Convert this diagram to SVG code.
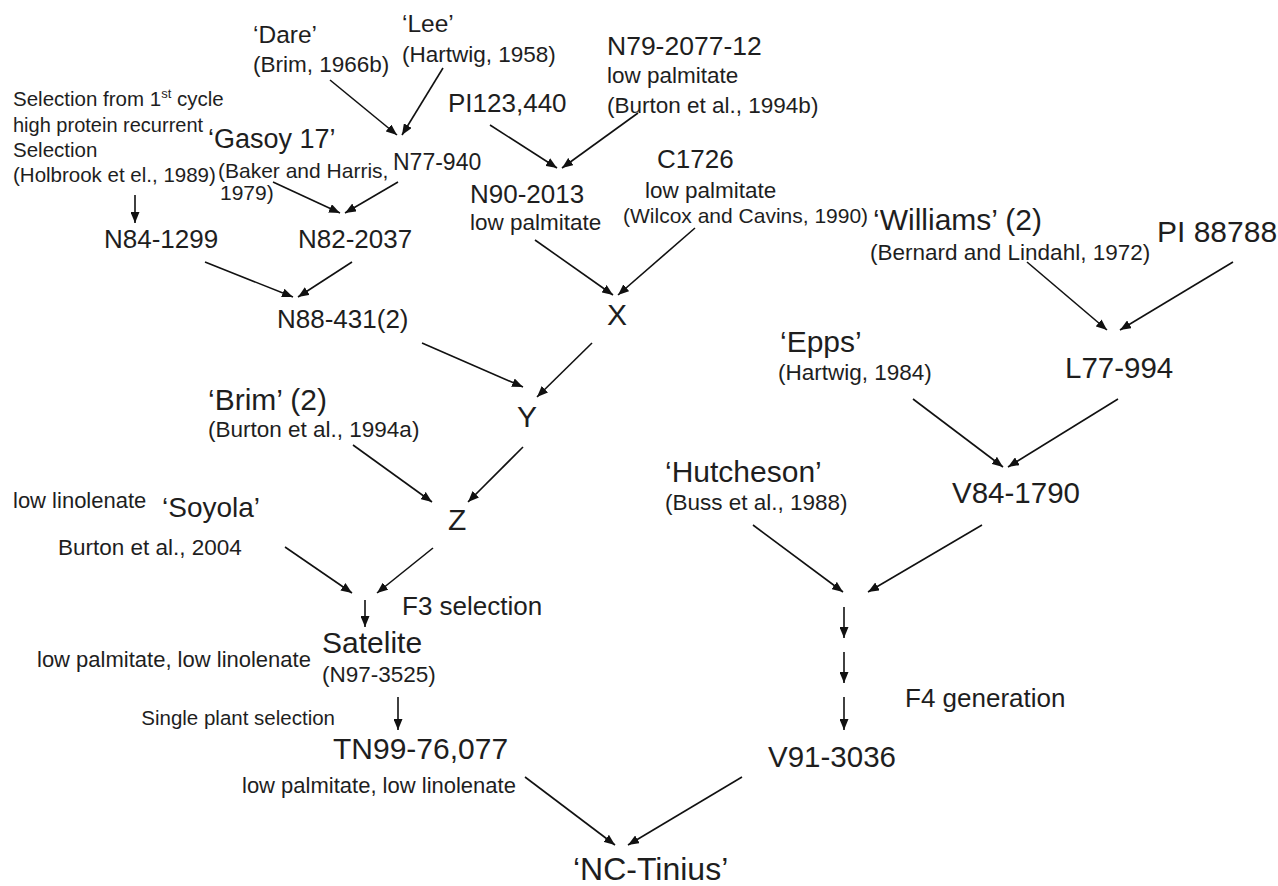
<svg xmlns="http://www.w3.org/2000/svg" width="1278" height="886" viewBox="0 0 1278 886">
<defs>
<marker id="ah" markerUnits="userSpaceOnUse" markerWidth="11" markerHeight="9" refX="11" refY="4.5" orient="auto">
<path d="M0,0 L11,4.5 L0,9 z" fill="#111"/>
</marker>
<style>
text{font-family:"Liberation Sans",Arial,sans-serif;fill:#1e1e1e}
.b{font-size:26px}
.c{font-size:30px}
.s{font-size:22.5px}
.t{font-size:20.5px}
.e line{stroke:#111;stroke-width:1.6;marker-end:url(#ah)}
</style>
</defs>
<rect width="1278" height="886" fill="#fff"/>
<g id="n-dare"><text class="b" x="253" y="43" style="font-size:24.5px">‘Dare’</text><text class="s" x="253" y="72">(Brim, 1966b)</text></g>
<g id="n-lee"><text class="b" x="402" y="32" style="font-size:24.5px">‘Lee’</text><text class="s" x="402" y="62">(Hartwig, 1958)</text></g>
<g id="n-sel"><text class="t" x="13" y="106">Selection from 1<tspan font-size="13" dy="-8">st</tspan><tspan dy="8"> cycle</tspan></text><text class="t" x="13" y="132" style="font-size:20px">high protein recurrent</text><text class="t" x="13" y="157">Selection</text><text class="t" x="13" y="182">(Holbrook et el., 1989)</text></g>
<g id="n-gasoy"><text class="b" x="208" y="148" style="font-size:27px">‘Gasoy 17’</text><text class="s" x="218" y="178" style="font-size:21px">(Baker and Harris,</text><text class="s" x="220" y="200" style="font-size:21px">1979)</text></g>
<g id="n-n77"><text class="b" x="393" y="170" style="font-size:23px">N77-940</text></g>
<g id="n-n79"><text class="b" x="607" y="55" style="font-size:26.5px">N79-2077-12</text><text class="s" x="607" y="83">low palmitate</text><text class="s" x="607" y="113">(Burton et al., 1994b)</text></g>
<g id="n-pi123"><text class="b" x="448" y="112">PI123,440</text></g>
<g id="n-n90"><text class="b" x="470" y="203">N90-2013</text><text class="s" x="470" y="230">low palmitate</text></g>
<g id="n-c1726"><text class="b" x="657" y="168">C1726</text><text class="s" x="645" y="198">low palmitate</text><text class="s" x="623" y="223" style="font-size:21px">(Wilcox and Cavins, 1990)</text></g>
<g id="n-n84"><text class="b" x="104" y="248">N84-1299</text></g>
<g id="n-n82"><text class="b" x="298" y="248">N82-2037</text></g>
<g id="n-n88"><text class="b" x="277" y="328">N88-431(2)</text></g>
<g id="n-x"><text class="c" x="607" y="325">X</text></g>
<g id="n-y"><text class="c" x="517" y="427">Y</text></g>
<g id="n-z"><text class="c" x="448" y="530">Z</text></g>
<g id="n-williams"><text class="c" x="873" y="230">‘Williams’ (2)</text><text class="s" x="870" y="260">(Bernard and Lindahl, 1972)</text></g>
<g id="n-pi88788"><text class="c" x="1157" y="242">PI 88788</text></g>
<g id="n-l77"><text class="c" x="1065" y="378" style="font-size:29.5px">L77-994</text></g>
<g id="n-epps"><text class="c" x="780" y="352">‘Epps’</text><text class="s" x="778" y="380">(Hartwig, 1984)</text></g>
<g id="n-brim"><text class="c" x="208" y="410">‘Brim’ (2)</text><text class="s" x="208" y="437">(Burton et al., 1994a)</text></g>
<g id="n-hutcheson"><text class="c" x="665" y="482">‘Hutcheson’</text><text class="s" x="665" y="510">(Buss et al., 1988)</text></g>
<g id="n-v84"><text class="c" x="952" y="503" style="font-size:29.5px">V84-1790</text></g>
<g id="n-soyola"><text class="s" x="13" y="508" style="font-size:22px">low linolenate</text><text class="c" x="162" y="517" style="font-size:28px">‘Soyola’</text><text class="s" x="58" y="555">Burton et al., 2004</text></g>
<g id="n-f3"><text class="b" x="402" y="615">F3 selection</text></g>
<g id="n-satelite"><text class="c" x="322" y="653">Satelite</text><text class="s" x="37" y="667" style="font-size:22px">low palmitate, low linolenate</text><text class="s" x="322" y="682">(N97-3525)</text></g>
<g id="n-single"><text class="t" x="335" y="725" text-anchor="end">Single plant selection</text></g>
<g id="n-tn99"><text class="c" x="333" y="759">TN99-76,077</text><text class="s" x="242" y="793" style="font-size:22px">low palmitate, low linolenate</text></g>
<g id="n-f4"><text class="b" x="905" y="707">F4 generation</text></g>
<g id="n-v91"><text class="c" x="768" y="767" style="font-size:29.5px">V91-3036</text></g>
<g id="n-nctinius"><text class="c" x="573" y="880" style="font-size:32px">‘NC-Tinius’</text></g>
<g id="connectors" class="e">
<line x1="330" y1="80" x2="397" y2="135"/>
<line x1="443" y1="68" x2="402" y2="135"/>
<line x1="273" y1="182" x2="340" y2="213"/>
<line x1="398" y1="182" x2="345" y2="213"/>
<line x1="135" y1="195" x2="135" y2="223"/>
<line x1="205" y1="262" x2="293" y2="297"/>
<line x1="352" y1="262" x2="298" y2="297"/>
<line x1="490" y1="125" x2="557" y2="168"/>
<line x1="638" y1="113" x2="562" y2="168"/>
<line x1="535" y1="240" x2="613" y2="295"/>
<line x1="695" y1="228" x2="618" y2="295"/>
<line x1="422" y1="343" x2="523" y2="387"/>
<line x1="592" y1="343" x2="537" y2="397"/>
<line x1="353" y1="445" x2="432" y2="502"/>
<line x1="523" y1="447" x2="468" y2="502"/>
<line x1="285" y1="547" x2="352" y2="593"/>
<line x1="433" y1="548" x2="377" y2="593"/>
<line x1="365" y1="600" x2="365" y2="627"/>
<line x1="398" y1="697" x2="398" y2="730"/>
<line x1="525" y1="777" x2="615" y2="845"/>
<line x1="742" y1="777" x2="628" y2="845"/>
<line x1="1027" y1="262" x2="1107" y2="330"/>
<line x1="1233" y1="262" x2="1120" y2="330"/>
<line x1="913" y1="399" x2="1003" y2="467"/>
<line x1="1118" y1="399" x2="1008" y2="467"/>
<line x1="753" y1="525" x2="843" y2="592"/>
<line x1="982" y1="525" x2="868" y2="592"/>
<line x1="844" y1="607" x2="844" y2="638"/>
<line x1="844" y1="652" x2="844" y2="683"/>
<line x1="844" y1="697" x2="844" y2="730"/>
</g>
</svg>
